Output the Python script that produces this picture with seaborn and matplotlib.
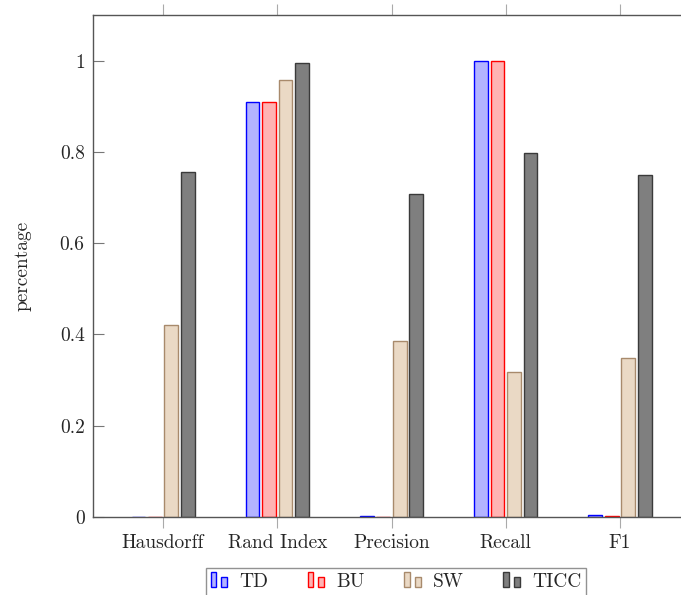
import matplotlib
matplotlib.use("Agg")
import matplotlib.pyplot as plt
import pandas as pd
import seaborn as sns
from matplotlib.legend_handler import HandlerBase
from matplotlib.patches import Rectangle

metrics = ["Hausdorff", "Rand Index", "Precision", "Recall", "F1"]
methods = ["TD", "BU", "SW", "TICC"]
td_vals = [0.0, 0.91, 0.003, 1.0, 0.005]
bu_vals = [0.0, 0.91, 0.001, 1.0, 0.003]
sw_vals = [0.42, 0.958, 0.385, 0.318, 0.348]
ticc_vals = [0.757, 0.995, 0.707, 0.797, 0.75]
y_ticks = [0, 0.2, 0.4, 0.6, 0.8, 1]
y_tick_labels = ["0", "0.2", "0.4", "0.6", "0.8", "1"]

fills = {"TD": "#b3b3ff", "BU": "#ffb3b3", "SW": "#ead9c5", "TICC": "#7f7f7f"}
edges = {"TD": "#0000ff", "BU": "#ff0000", "SW": "#a88a6c", "TICC": "#3a3a3a"}

df = pd.DataFrame({
    "metric": metrics * 4,
    "method": [m for m in methods for _ in metrics],
    "value": td_vals + bu_vals + sw_vals + ticc_vals,
})


class TwoBarHandler(HandlerBase):
    def create_artists(self, legend, orig_handle, xdescent, ydescent,
                       width, height, fontsize, trans):
        fc = orig_handle.get_facecolor()
        ec = orig_handle.get_edgecolor()
        w = width * 0.3
        r1 = Rectangle((-xdescent, -ydescent - 1), w, height + 2,
                       facecolor=fc, edgecolor=ec, lw=1, transform=trans)
        r2 = Rectangle((-xdescent + width * 0.55, -ydescent - 1), w, height * 0.75 + 1,
                       facecolor=fc, edgecolor=ec, lw=1, transform=trans)
        return [r1, r2]


sns.set_theme(style="white")
plt.rcParams["font.family"] = ["cmr10", "DejaVu Serif"]
plt.rcParams["axes.formatter.use_mathtext"] = True

fig = plt.figure(figsize=(6.81, 5.95), dpi=100)
ax = fig.add_axes([93 / 681, 78 / 595, 1 - 93 / 681, 502 / 595])

sns.barplot(
    data=df, x="metric", y="value", hue="method", order=metrics, hue_order=methods,
    palette=fills, saturation=1, errorbar=None, width=0.576, gap=0.167,
    linewidth=1, ax=ax, legend=False,
)
for container, m in zip(ax.containers, methods):
    for patch in container:
        patch.set_edgecolor(edges[m])
        patch.set_linewidth(1.0)

ax.set_xlim(-0.613, 4.534)
ax.set_ylim(0, 1.1)
ax.set_yticks(y_ticks)
ax.set_yticklabels(y_tick_labels)
ax.set_xlabel("")
ax.set_ylabel("percentage", fontsize=14, labelpad=20)
ax.tick_params(axis="y", direction="in", length=8, width=0.8, color="#777777",
               labelsize=14, pad=6, left=True)
ax.tick_params(axis="x", direction="out", length=8, width=0.8, color="#aaaaaa",
               labelsize=14, pad=4, bottom=True, top=True)
for side in ["left", "top", "bottom"]:
    ax.spines[side].set_color("#555555")
    ax.spines[side].set_linewidth(1.0)
ax.spines["right"].set_visible(False)

handles = [Rectangle((0, 0), 1, 1, facecolor=fills[m], edgecolor=edges[m]) for m in methods]
leg = fig.legend(
    handles, methods, loc="upper center", bbox_to_anchor=(396 / 681, 1 - 568 / 595),
    ncol=4, frameon=True, fancybox=False, fontsize=14, handlelength=1.0,
    handleheight=0.6, handler_map={Rectangle: TwoBarHandler()}, columnspacing=2.0,
    handletextpad=0.5, borderpad=0.25, borderaxespad=0,
)
leg.get_frame().set_edgecolor("#777777")
leg.get_frame().set_linewidth(1.0)

fig.savefig("out.png", dpi=100)
